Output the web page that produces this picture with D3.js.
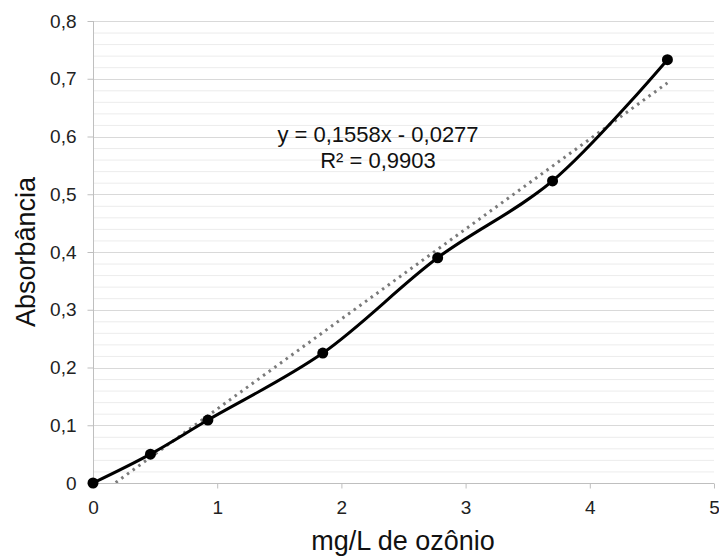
<!DOCTYPE html>
<html>
<head>
<meta charset="utf-8">
<script src="https://cdn.jsdelivr.net/npm/d3@7"></script>
<style>
  html, body { margin: 0; padding: 0; background: #fff; }
  svg { display: block; font-family: "Liberation Sans", Arial, sans-serif; }
</style>
</head>
<body>
<svg id="chart" width="719" height="556"></svg>
<script>
// dados
const concentracao = [0, 0.4625, 0.925, 1.85, 2.775, 3.7, 4.625];
const absorbancia = [0, 0.05, 0.109, 0.225, 0.39, 0.523, 0.733];
const xTicks = [0, 1, 2, 3, 4, 5];
const yTicks = [0, 0.1, 0.2, 0.3, 0.4, 0.5, 0.6, 0.7, 0.8];
const trendSlope = 0.1558;
const trendIntercept = -0.0277;
const equationLines = ['y = 0,1558x - 0,0277', 'R² = 0,9903'];

const svg = d3.select('#chart');
const margin = { top: 21, right: 5, bottom: 73, left: 93 };
const width = 719 - margin.left - margin.right;
const height = 556 - margin.top - margin.bottom;

const x = d3.scaleLinear().domain([0, 5]).range([0, width]);
const y = d3.scaleLinear().domain([0, 0.8]).range([height, 0]);
const fmt = d => d3.format('.1f')(d).replace('.', ',').replace(/^0,0$/, '0');

const g = svg.append('g').attr('transform', `translate(${margin.left},${margin.top})`);

// grade secundaria
const minor = d3.range(0, 0.8001, 0.02).filter(v => Math.abs(v * 10 - Math.round(v * 10)) > 1e-6);
g.selectAll('.minor').data(minor).enter().append('line')
  .attr('x1', 0).attr('x2', width)
  .attr('y1', d => y(d) + 0.5).attr('y2', d => y(d) + 0.5)
  .attr('stroke', '#ececec').attr('stroke-width', 1);

// grade principal
g.selectAll('.major').data(yTicks.slice(1)).enter().append('line')
  .attr('x1', 0).attr('x2', width)
  .attr('y1', d => Math.round(y(d)) + 0.5).attr('y2', d => Math.round(y(d)) + 0.5)
  .attr('stroke', '#d9d9d9').attr('stroke-width', 1);

// eixo Y
const yAxis = g.append('g').attr('transform', 'translate(0.5,0)')
  .call(d3.axisLeft(y).tickValues(yTicks).tickFormat(fmt).tickSize(6).tickPadding(11));
yAxis.selectAll('.tick line').attr('stroke', '#bfbfbf');
yAxis.select('.domain').attr('stroke', '#bfbfbf').attr('d', `M0,0V${height}`);
yAxis.selectAll('text').attr('fill', '#222').style('font-size', '19px');

// eixo X
const xAxis = g.append('g').attr('transform', `translate(0,${height + 0.5})`)
  .call(d3.axisBottom(x).tickValues(xTicks).tickFormat(d3.format('d')).tickSize(5).tickPadding(12));
xAxis.selectAll('.tick line').attr('stroke', '#bfbfbf');
xAxis.select('.domain').attr('stroke', '#bfbfbf').attr('d', `M0,0H${width}`);
xAxis.selectAll('text').attr('fill', '#222').style('font-size', '19px');

// linha de tendencia
g.append('clipPath').attr('id', 'plot').append('rect')
  .attr('x', 0).attr('y', 0).attr('width', width).attr('height', height);
const trendX = [0, concentracao[concentracao.length - 1]];
g.append('line')
  .attr('clip-path', 'url(#plot)')
  .attr('x1', x(trendX[0])).attr('y1', y(trendSlope * trendX[0] + trendIntercept))
  .attr('x2', x(trendX[1])).attr('y2', y(trendSlope * trendX[1] + trendIntercept))
  .attr('stroke', '#7a7a7a').attr('stroke-width', 3)
  .attr('stroke-dasharray', '2.5 4.5');

// serie suavizada
const pts = concentracao.map((c, i) => [c, absorbancia[i]]);
g.append('path').datum(pts)
  .attr('fill', 'none').attr('stroke', '#000').attr('stroke-width', 3)
  .attr('d', d3.line().x(d => x(d[0])).y(d => y(d[1])).curve(d3.curveCatmullRom.alpha(0.5)));

g.selectAll('.pt').data(pts).enter().append('circle')
  .attr('cx', d => x(d[0])).attr('cy', d => y(d[1])).attr('r', 5.5)
  .attr('fill', '#000');

// equacao
g.append('text').attr('x', 285).attr('y', 121)
  .attr('text-anchor', 'middle').attr('fill', '#111').style('font-size', '22px')
  .selectAll('tspan').data(equationLines).enter().append('tspan')
  .attr('x', 285).attr('dy', (d, i) => i === 0 ? 0 : 26).text(d => d);

// titulos
svg.append('text').attr('x', 403).attr('y', 550)
  .attr('text-anchor', 'middle').attr('fill', '#111').style('font-size', '27px')
  .text('mg/L de ozônio');
svg.append('text').attr('transform', 'translate(35,252) rotate(-90)')
  .attr('text-anchor', 'middle').attr('fill', '#111').style('font-size', '27px')
  .text('Absorbância');
</script>
</body>
</html>
